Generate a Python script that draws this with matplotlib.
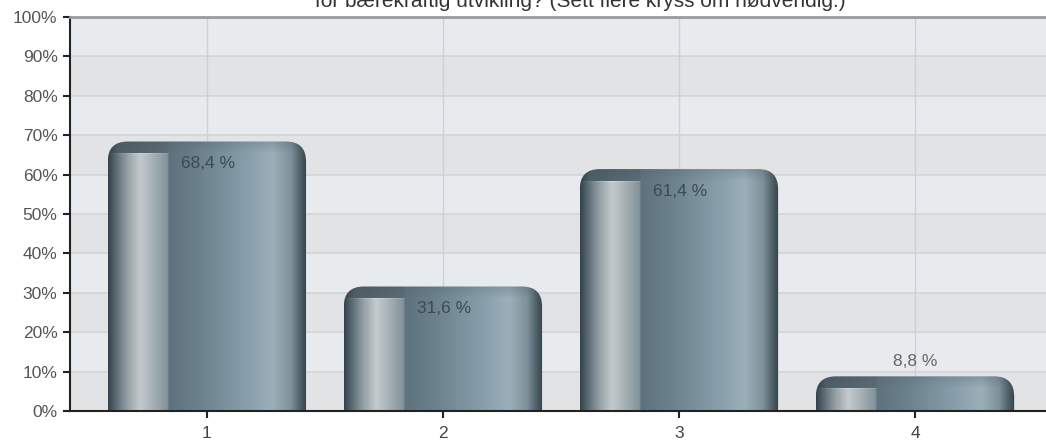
import numpy as np
import matplotlib
matplotlib.use("Agg")
import matplotlib.pyplot as plt
from matplotlib.path import Path
from matplotlib.patches import PathPatch
from matplotlib.colors import to_rgb

# ---- data ----
categories = ["1", "2", "3", "4"]
values = [68.4, 31.6, 61.4, 8.8]
value_labels = ["68,4 %", "31,6 %", "61,4 %", "8,8 %"]
y_ticks = [0, 10, 20, 30, 40, 50, 60, 70, 80, 90, 100]
y_tick_labels = ["0%", "10%", "20%", "30%", "40%", "50%", "60%", "70%", "80%", "90%", "100%"]
title_text = "for bærekraftig utvikling? (Sett flere kryss om nødvendig.)"

plt.rcParams['font.family'] = ['Liberation Sans', 'DejaVu Sans']

W, H = 1046, 441
fig = plt.figure(figsize=(W / 100, H / 100), dpi=100)
fig.patch.set_facecolor('white')
ax = fig.add_axes([70 / W, 30 / H, (W - 70) / W, 394 / H])

x = np.arange(1, len(categories) + 1)
ax.set_xlim(0.42, 4.555)
ax.set_ylim(0, 100)

# background bands
for k in range(10):
    col = '#e8ebee' if k % 2 == 1 else '#e2e3e5'
    ax.axhspan(k * 10, k * 10 + 10, color=col, zorder=0, lw=0)
for t in y_ticks[1:-1]:
    ax.axhline(t, color='#d3d5d8', lw=1.3, zorder=0.5)
for xi in x:
    ax.axvline(xi, color='#cdd1d5', lw=1.0, zorder=0.5)

bars = ax.bar(x, values, width=0.84, facecolor='none', edgecolor='none', zorder=2)

fig.canvas.draw()
px_x = ax.transData.transform((1, 0))[0] - ax.transData.transform((0, 0))[0]
px_y = ax.transData.transform((0, 1))[1] - ax.transData.transform((0, 0))[1]


def profile(stops, n):
    fr = np.array([s[0] for s in stops])
    cols = np.array([to_rgb(s[1]) for s in stops])
    xs = np.linspace(0, 1, n)
    return np.stack([np.interp(xs, fr, cols[:, c]) for c in range(3)], axis=1)


main_stops = [
    (0.00, '#34434b'), (0.04, '#5d6d76'), (0.10, '#98a3a8'), (0.16, '#c4cacc'),
    (0.22, '#a9b3b7'), (0.30, '#82929a'), (0.305, '#5e727d'), (0.45, '#6a808b'),
    (0.70, '#889eaa'), (0.83, '#9cb0ba'), (0.92, '#7f929c'), (0.97, '#4f5f68'),
    (1.00, '#34434b'),
]
cap_stops = [
    (0.00, '#34434b'), (0.05, '#4f5f68'), (0.30, '#5a6c76'), (0.45, '#647884'),
    (0.70, '#7a909b'), (0.83, '#8398a2'), (0.92, '#6f828c'), (0.97, '#4a5a63'),
    (1.00, '#34434b'),
]
ncol = 240
main_p = profile(main_stops, ncol)
cap_p = profile(cap_stops, ncol)
split = int(0.305 * ncol)

r_px = 20.0
cap_px = 12
for rect in bars:
    x0 = rect.get_x()
    w = rect.get_width()
    h = rect.get_height()
    nrow = max(int(round(h * px_y)), 2)
    img = np.repeat(main_p[None, :, :], nrow, axis=0)
    for r in range(min(cap_px, nrow)):
        t = r / cap_px
        blend = cap_p * (1 - t) + main_p * t
        img[r, split:] = blend[split:]
        img[r, :split] = cap_p[:split] * (0.95 + 0.05 * t)
    if nrow > cap_px:
        img[cap_px, :split] = np.clip(img[cap_px, :split] * 1.08, 0, 1)
    im = ax.imshow(img, extent=(x0, x0 + w, 0, h), aspect='auto',
                   interpolation='bilinear', zorder=2, origin='upper')
    dx = r_px / px_x
    dy = min(r_px / px_y, h)
    verts = [(x0, 0), (x0, h - dy), (x0, h), (x0 + dx, h),
             (x0 + w - dx, h), (x0 + w, h), (x0 + w, h - dy), (x0 + w, 0), (x0, 0)]
    codes = [Path.MOVETO, Path.LINETO, Path.CURVE3, Path.CURVE3,
             Path.LINETO, Path.CURVE3, Path.CURVE3, Path.LINETO, Path.CLOSEPOLY]
    clip = PathPatch(Path(verts, codes), transform=ax.transData, facecolor='none', edgecolor='none')
    ax.add_patch(clip)
    im.set_clip_path(clip)

for xi, v, lab in zip(x, values, value_labels):
    if v > 15:
        ax.annotate(lab, (xi, v), xytext=(1, -22), textcoords='offset pixels',
                    ha='center', va='center', fontsize=12.5, color='#3d4a53', zorder=5)
    else:
        ax.annotate(lab, (xi, v), xytext=(0, 15), textcoords='offset pixels',
                    ha='center', va='center', fontsize=12.5, color='#666666', zorder=5)

ax.set_xticks(x)
ax.set_xticklabels(categories)
ax.set_yticks(y_ticks)
ax.set_yticklabels(y_tick_labels)
ax.tick_params(axis='both', direction='out', length=5, width=1.5, color='#222222',
               labelsize=12.5, labelcolor='#555555')
ax.tick_params(axis='x', labelcolor='#444444', pad=6)
ax.tick_params(axis='y', pad=4)

ax.spines['right'].set_visible(False)
ax.spines['left'].set_color('#222222')
ax.spines['left'].set_linewidth(1.5)
ax.spines['bottom'].set_color('#222222')
ax.spines['bottom'].set_linewidth(1.5)
ax.spines['top'].set_color('#9a9a9a')
ax.spines['top'].set_linewidth(2)
ax.spines['bottom'].set_zorder(6)

fig.text(580 / W, 1 - 7 / H, title_text, ha='center', va='baseline', fontsize=15, color='#333333')

fig.savefig('out.png', dpi=100)
